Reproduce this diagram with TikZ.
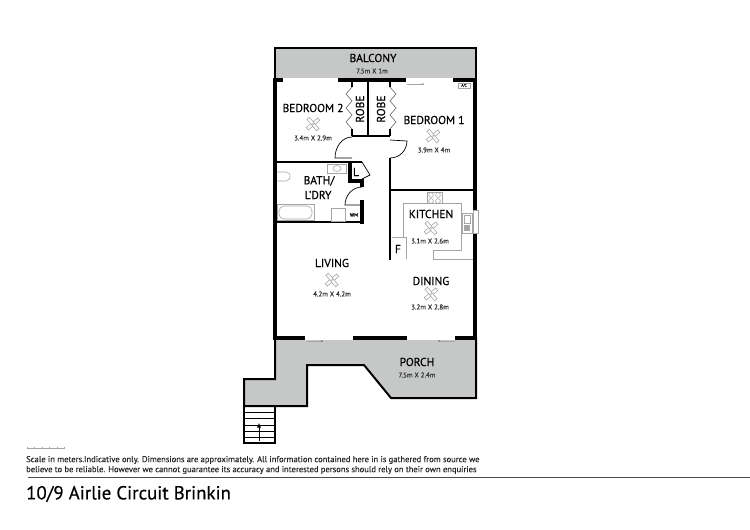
\documentclass[tikz,border=0pt]{standalone}
\usepackage{fontspec}
\usetikzlibrary{arrows.meta}
\setmainfont[RawFeature={embolden=0.5}]{PT Sans}
\definecolor{slab}{RGB}{198,199,199}
\definecolor{fitting}{RGB}{165,165,165}
\tikzset{
  wall/.style={line width=3.6pt,black},
  thinwall/.style={line width=2.2pt,black},
  outline/.style={line width=2pt,black},
  doorline/.style={line width=0.7pt,black},
  fixture/.style={line width=0.6pt,fitting},
  room/.style={font=\fontsize{11.5}{12}\selectfont,inner sep=0pt},
  dims/.style={font=\fontsize{7}{8}\selectfont,inner sep=0pt,text=black!80},
  note/.style={font=\fontsize{8.55}{10}\selectfont,inner sep=0pt,anchor=west,align=left,text=black!85},
  opening/.style={fill=white,draw=none},
}
\newcommand{\fan}[1]{
  \begin{scope}[shift={#1},rotate=40]
    \draw[fixture,fill=white] (-7.5,-1.6) rectangle (7.5,1.6);
    \draw[fixture,fill=white] (-1.6,-7.5) rectangle (1.6,7.5);
    \fill[fitting] (0,0) circle (1);
  \end{scope}
}
\begin{document}
\begin{tikzpicture}[x=1pt,y=-1pt]
\useasboundingbox (0,0) rectangle (750,530);
% balcony and porch
\draw[outline,fill=slab] (275,48) rectangle (476,79);
\draw[outline,fill=slab,line join=miter] (275,338) -- (275,379) -- (244,379) -- (244,406)
  -- (307,406) -- (307,365) -- (364,365) -- (391,398) -- (476,398) -- (476,338) -- cycle;
% stairs
\draw[line width=1.5pt] (244,406) -- (244,443) -- (275,443) -- (275,406);
\foreach \y in {412,418,425,431,437}
  \draw[line width=0.6pt] (244,\y) -- (275,\y);
\draw[line width=0.6pt,-{Latex[length=4.5pt,width=4pt]}] (259,441) -- (259,423);
% window openings
\foreach \a/\b in {283/338,406/453}
  \fill[opening] (\a,77.5) rectangle (\b,82);
\foreach \a/\b in {305/353,407/455}
  \fill[opening] (\a,336) rectangle (\b,340);
% outer walls
\draw[wall] (275,78) -- (275,340);
\draw[wall] (475,78) -- (475,210) (475,233) -- (475,340);
\draw[wall] (273,80) -- (283,80) (338,80) -- (406,80) (453,80) -- (477,80);
\draw[wall] (273,338) -- (305,338) (353,338) -- (407,338) (455,338) -- (477,338);
% robes
\draw[thinwall] (368,80) -- (368,136);
\draw[thinwall] (352,136) -- (390,136);
\foreach \x in {352,390}
  \draw[thinwall] (\x,80) -- (\x,87) (\x,129) -- (\x,136);
\draw[doorline,fitting!70!black] (352,87) -- (346,94) -- (352,101) -- (346,108) -- (352,115) -- (346,122) -- (352,129);
\draw[doorline,fitting!70!black] (390,87) -- (396,94) -- (390,101) -- (396,108) -- (390,115) -- (396,122) -- (390,129);
% inner walls
\draw[thinwall] (275,162) -- (362,162);
\draw[wall] (350,162) -- (350,181) -- (362,181) -- (362,187);
\draw[wall] (362,200) -- (362,224);
\draw[thinwall] (275,222) -- (363,222);
\draw[thinwall] (390,158) -- (390,260);
\draw[thinwall] (390,190) -- (475,190);
% doors
\draw[doorline] (352,137) .. controls (342,137) and (335,147) .. (335,158) -- (352,158);
\draw[doorline] (390,140) -- (407,141) .. controls (407,150) and (400,158) .. (390,158);
\draw[doorline] (362,187) .. controls (352,187) and (345,196) .. (345,205) -- (362,205);
\draw[doorline] (362,162) -- (370,175) -- (362,179);
% window tracks
\draw[fitting,line width=0.8pt] (407,84) -- (423,84);
\draw[fitting,line width=0.8pt] (307,341) -- (322,341);
\draw[fitting,line width=0.8pt] (439,341) -- (455,341);
\fill (423,84) circle (0.7) (322,341) circle (0.7) (439,341) circle (0.7);
\draw[fixture] (458,83) rectangle (470,88);
\node[font=\fontsize{3.5}{4}\selectfont,inner sep=0pt] (acunit) at (464,85.5) {A/C};
% kitchen
\draw[fixture] (403,237) -- (403,203) -- (461,203) -- (461,250) -- (433,250) -- (433,259) -- (473,259);
\draw[fixture] (392,237) -- (406,237) -- (406,259);
\draw[fixture,fill=white] (427,192) rectangle (442,203.5);
\foreach \x in {431,438} \foreach \y in {195,201}
  \draw[fixture] (\x,\y) circle (2.4);
\draw[fixture,fill=white] (462,213) rectangle (472,233);
\fill[fitting] (464,225) rectangle (470,231);
\draw[fixture] (464,215) rectangle (470,223);
\draw[fixture] (473,210) rectangle (478,233);
% bathroom
\draw[fixture] (277,204) rectangle (314,220);
\draw[fixture,rounded corners=5pt] (279,206) rectangle (312,219);
\draw[fixture] (331,208) rectangle (345,221);
\draw[fixture] (327,164) rectangle (346,173);
\draw[fixture] (337,168.5) ellipse (4 and 3);
\draw[fixture,rounded corners=2pt] (277,172) -- (288,172) -- (291,176) -- (288,181) -- (277,181);
% fans
\fan{(313,124)}
\fan{(433,136)}
\fan{(431,228)}
\fan{(332,280)}
\fan{(431,294)}
% labels
\node[room] (balcony) at (373,58) {BALCONY};
\node[dims] (balconydim) at (372,71) {7.5m X 1m};
\node[room] (bedtwo) at (313,108) {BEDROOM 2};
\node[dims] (bedtwodim) at (313,138) {3.4m X 2.9m};
\node[room] (bedone) at (434,120) {BEDROOM 1};
\node[dims] (bedonedim) at (434,150) {3.9m X 4m};
\node[room,rotate=90] (robeleft) at (360,109) {ROBE};
\node[room,rotate=90] (roberight) at (381,109) {ROBE};
\node[room] (cupboard) at (356,172) {L};
\node[room] (bath) at (319,181) {BATH/};
\node[room] (laundry) at (318,195) {L'DRY};
\node[font=\fontsize{5}{6}\selectfont,inner sep=0pt] (wm) at (354,215) {WM};
\node[room] (kitchen) at (431,214) {KITCHEN};
\node[dims] (kitchendim) at (430,241) {3.1m X 2.6m};
\node[room] (fridge) at (398,249) {F};
\node[room] (living) at (332,263) {LIVING};
\node[dims] (livingdim) at (332,294) {4.2m X 4.2m};
\node[room] (dining) at (431,281) {DINING};
\node[dims] (diningdim) at (430,307) {3.2m X 2.8m};
\node[room] (porch) at (417,362) {PORCH};
\node[dims] (porchdim) at (417,375) {7.5m X 2.4m};
% scale and notes
\draw[fitting,line width=0.5pt] (27,448) -- (64,448);
\foreach \x in {27,34,42,49,57,64}
  \draw[fitting,line width=0.5pt] (\x,446.5) -- (\x,449);
\node[note] (disclaimer) at (26,465) {Scale in meters.Indicative only. Dimensions are approximately. All information contained here in is gathered from source we\\believe to be reliable. However we cannot guarantee its accuracy and interested persons should rely on their own enquiries};
\draw[line width=1pt,black!70] (28,477) -- (750,477);
\node[font=\fontsize{18.85}{20}\selectfont,inner sep=0pt,anchor=west] (address) at (26,494) {10/9 Airlie Circuit Brinkin};
\end{tikzpicture}
\end{document}
